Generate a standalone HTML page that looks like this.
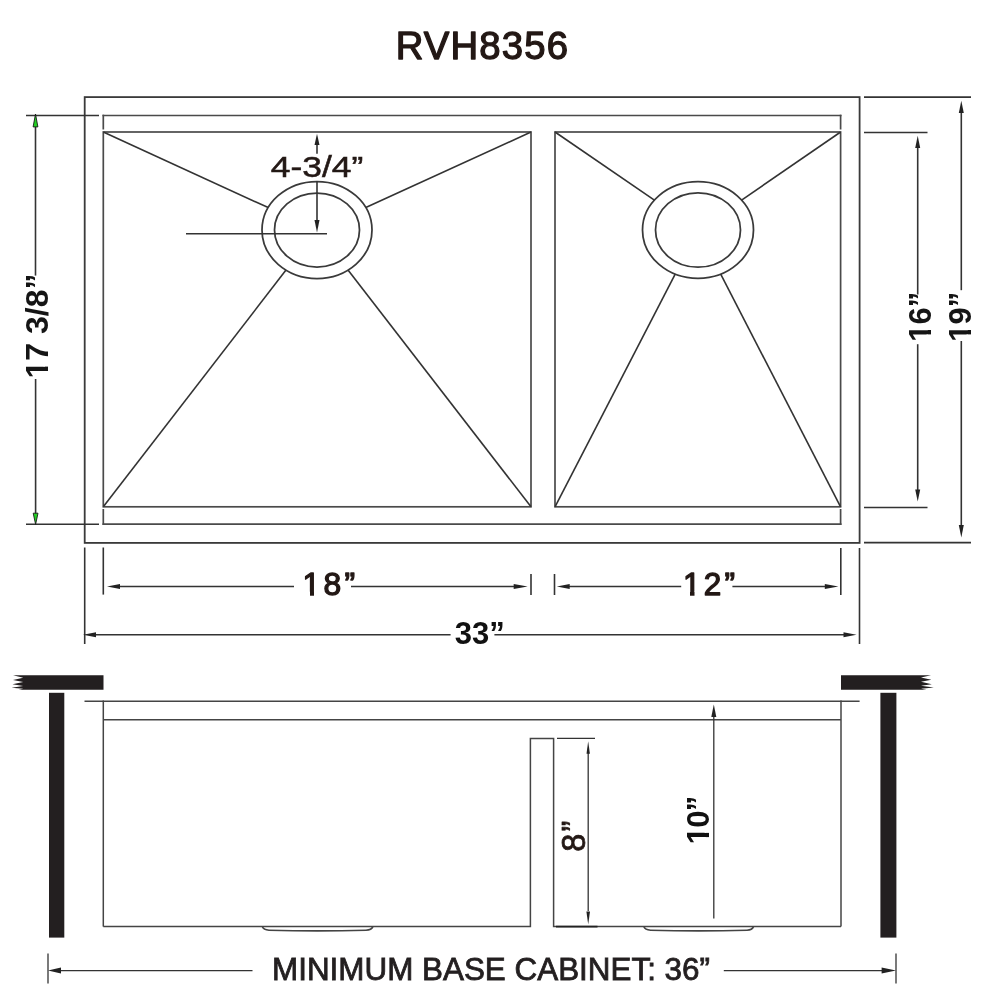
<!DOCTYPE html>
<html><head><meta charset="utf-8">
<style>
html,body{margin:0;padding:0;background:#fff;width:1000px;height:1000px;overflow:hidden}
svg{display:block;will-change:transform}
text{font-family:"Liberation Sans",sans-serif}
</style></head>
<body>
<svg width="1000" height="1000" viewBox="0 0 1000 1000">
<rect x="0" y="0" width="1000" height="1000" fill="#fff"/>

<!-- Title -->
<text x="481.9" y="59" font-size="38.3" font-weight="normal" fill="#231815" stroke="#231815" stroke-width="1.3" stroke-linejoin="round" text-anchor="middle" textLength="172.3" lengthAdjust="spacing">RVH8356</text>

<!-- ============ TOP VIEW ============ -->
<g fill="none" stroke-linecap="butt">
  <!-- outer rect -->
  <rect x="84.7" y="97.1" width="774.9" height="445.8" stroke="#3a3a3a" stroke-width="1.8"/>
  <!-- inner rim -->
  <g stroke="#4a4a4a" stroke-width="1.7">
    <line x1="102.5" y1="115.5" x2="841.5" y2="115.5"/>
    <line x1="102.5" y1="524.2" x2="841.5" y2="524.2"/>
    <line x1="103.3" y1="114.7" x2="103.3" y2="129.5"/>
    <line x1="103.3" y1="509" x2="103.3" y2="525"/>
    <line x1="840.6" y1="114.7" x2="840.6" y2="129.5"/>
    <line x1="840.6" y1="509" x2="840.6" y2="525"/>
    <!-- left basin -->
    <rect x="103.3" y="132" width="427.7" height="374.8"/>
    <!-- right basin -->
    <rect x="555" y="132" width="285.6" height="374.8"/>
  </g>
  <!-- drains -->
  <g stroke="#3a3a3a" stroke-width="1.75">
    <ellipse cx="317" cy="230" rx="55" ry="48.5"/>
    <ellipse cx="317" cy="230" rx="42.5" ry="37"/>
    <ellipse cx="698" cy="230" rx="55.5" ry="48.3"/>
    <ellipse cx="698" cy="230" rx="42.5" ry="37.2"/>
  </g>
  <!-- diagonals -->
  <g stroke="#333" stroke-width="1.6">
    <line x1="103.3" y1="132.0" x2="268.2" y2="207.6"/>
    <line x1="531.0" y1="132.0" x2="365.8" y2="207.6"/>
    <line x1="103.3" y1="506.8" x2="286.0" y2="270.1"/>
    <line x1="531.0" y1="506.8" x2="348.0" y2="270.1"/>
    <line x1="555.0" y1="132.0" x2="654.4" y2="200.1"/>
    <line x1="840.6" y1="132.0" x2="741.6" y2="200.1"/>
    <line x1="555.0" y1="506.8" x2="675.2" y2="274.1"/>
    <line x1="840.6" y1="506.8" x2="720.7" y2="274.1"/>
  </g>
</g>

<!-- ============ DIMENSIONS TOP ============ -->
<g stroke="#333" stroke-width="1.6" fill="none">
  <!-- 17 3/8 -->
  <line x1="26" y1="115.5" x2="99" y2="115.5"/>
  <line x1="26" y1="524.2" x2="99" y2="524.2"/>
  <line x1="35.5" y1="125" x2="35.5" y2="275.6"/>
  <line x1="35.6" y1="379" x2="35.6" y2="514"/>
  <!-- 16 -->
  <line x1="864" y1="132.5" x2="927.5" y2="132.5"/>
  <line x1="864" y1="507.5" x2="927.5" y2="507.5"/>
  <line x1="917.7" y1="146" x2="917.7" y2="294.5"/>
  <line x1="917.7" y1="344.2" x2="917.7" y2="492"/>
  <!-- 19 -->
  <line x1="864" y1="97.1" x2="971" y2="97.1"/>
  <line x1="864" y1="542.6" x2="971" y2="542.6"/>
  <line x1="961.3" y1="111" x2="961.3" y2="290.2"/>
  <line x1="961.3" y1="341" x2="961.3" y2="527"/>
  <!-- extension lines below -->
  <line x1="84.7" y1="547.5" x2="84.7" y2="644"/>
  <line x1="103.3" y1="547.5" x2="103.3" y2="594.6"/>
  <line x1="531" y1="574" x2="531" y2="595"/>
  <line x1="554.5" y1="574" x2="554.5" y2="595"/>
  <line x1="840.8" y1="548" x2="840.8" y2="595"/>
  <line x1="859.5" y1="548" x2="859.5" y2="644"/>
  <!-- 18 -->
  <line x1="118" y1="586.5" x2="294" y2="586.5"/>
  <line x1="351" y1="586.5" x2="515" y2="586.5"/>
  <!-- 12 -->
  <line x1="568" y1="586.5" x2="681.2" y2="586.5"/>
  <line x1="732.4" y1="586.5" x2="826" y2="586.5"/>
  <!-- 33 -->
  <line x1="95" y1="634.8" x2="450.6" y2="634.8"/>
  <line x1="494.4" y1="634.8" x2="845" y2="634.8"/>
  <!-- 4-3/4 -->
  <line x1="186" y1="233.7" x2="327" y2="233.7"/>
  <line x1="317" y1="143" x2="317" y2="153.7"/>
  <line x1="317" y1="181" x2="317" y2="222"/>
</g>

<!-- arrowheads -->
<g fill="#222" stroke="none">
  <polygon points="35.5,114 33.1,126.9 37.9,126.9" fill="#22d022" stroke="#1a1a1a" stroke-width="0.9" stroke-linejoin="round"/>
  <polygon points="35.6,524.4 33.2,513.2 38,513.2" fill="#22d022" stroke="#1a1a1a" stroke-width="0.9" stroke-linejoin="round"/>
  <polygon points="917.7,135.8 915.2,148 920.2,148"/>
  <polygon points="917.7,501.5 915.2,489.5 920.2,489.5"/>
  <polygon points="961.3,100.7 958.8,113 963.8,113"/>
  <polygon points="961.3,537.5 958.8,525 963.8,525"/>
  <polygon points="107,586.5 120,584 120,589"/>
  <polygon points="527.7,586.5 513.7,584 513.7,589"/>
  <polygon points="556.8,586.5 569.7,584 569.7,589"/>
  <polygon points="838.4,586.5 824.8,584 824.8,589"/>
  <polygon points="83,634.8 96,632.3 96,637.3"/>
  <polygon points="856.5,634.8 843.5,632.3 843.5,637.3"/>
  <polygon points="317,133.7 314.5,145 319.5,145"/>
  <polygon points="317,232.5 314.5,220 319.5,220"/>
</g>

<!-- dimension text -->
<g font-weight="bold" fill="#231815">
  <text x="328.75" y="595.4" font-size="31.8" font-weight="normal" stroke="#231815" stroke-width="1.3" stroke-linejoin="round" text-anchor="middle" textLength="52.5" lengthAdjust="spacing">18”</text>
  <text x="709" y="595.4" font-size="31.5" font-weight="normal" stroke="#231815" stroke-width="1.3" stroke-linejoin="round" text-anchor="middle" textLength="52" lengthAdjust="spacing">12”</text>
  <text x="479.7" y="644" font-size="31" text-anchor="middle" fill="#111">33”</text>
  <text x="317" y="177.4" font-size="29" font-weight="normal" stroke="#231815" stroke-width="0.5" text-anchor="middle" textLength="92.5" lengthAdjust="spacingAndGlyphs">4-3/4”</text>
  <text transform="translate(47.7,326) rotate(-90)" font-size="32" text-anchor="middle" fill="#151515">17 3/8”</text>
  <text transform="translate(930.8,316.7) rotate(-90)" font-size="31" text-anchor="middle" fill="#151515">16”</text>
  <text transform="translate(970.8,316.7) rotate(-90)" font-size="31" text-anchor="middle" fill="#151515">19”</text>
</g>

<!-- ============ SIDE VIEW ============ -->
<g fill="#231f20" stroke="none">
  <polygon points="13,675.3 103.5,675.3 103.5,689.8 18.7,689.8 23.2,688.7 11.5,687.7 23.2,686 12.5,684.2 23.2,682 13,680 23.2,677.8"/>
  <rect x="49" y="692.8" width="15.3" height="244.8"/>
  <polygon points="841,675.3 931,675.3 921,677.6 931.4,679.8 921,681.8 931.8,684.2 921,685.8 933.8,687.6 921,688.7 926.6,689.8 841,689.8"/>
  <rect x="880.4" y="692.8" width="16" height="244.8"/>
</g>
<g fill="none" stroke="#444" stroke-width="1.5">
  <line x1="84.5" y1="701.3" x2="859.6" y2="701.3"/>
  <line x1="103.3" y1="700.5" x2="103.3" y2="926.6"/>
  <line x1="841" y1="700.5" x2="841" y2="926.6"/>
  <line x1="103.3" y1="719.8" x2="841" y2="719.8"/>
  <polyline points="103.3,926.6 530.4,926.6 530.4,738.4 553.6,738.4 553.6,926.6 841,926.6"/>
  <path d="M262.3,926.6 Q263.5,930 269,930.2 Q317.6,931.6 366,930.2 Q371.5,930 372.9,926.6" stroke-width="1.6"/>
  <path d="M643.8,926.6 Q645,930 650.5,930.2 Q698.6,931.6 747,930.2 Q752.2,930 753.5,926.6" stroke-width="1.6"/>
</g>
<g fill="none" stroke="#333" stroke-width="1.3">
  <line x1="557" y1="738.4" x2="595" y2="738.4"/>
  <line x1="556" y1="926.6" x2="597.5" y2="926.6" stroke="#222" stroke-width="1.8"/>
  <line x1="588.2" y1="752" x2="588.2" y2="911"/>
  <line x1="713.8" y1="716" x2="713.8" y2="918.4"/>
  <!-- bottom dim -->
  <line x1="48" y1="953.6" x2="48" y2="983.6"/>
  <line x1="896" y1="953.6" x2="896" y2="983.6"/>
  <line x1="58" y1="970.6" x2="252.5" y2="970.6"/>
  <line x1="723.8" y1="970.6" x2="885" y2="970.6"/>
</g>
<g fill="#222">
  <polygon points="588.2,741.2 586.5,753.8 589.9,753.8"/>
  <polygon points="588.2,924.5 586.4,911.5 590,911.5"/>
  <polygon points="713.8,704.5 711.3,717 716.3,717"/>
  <polygon points="48,970.6 61,967.6 61,973.6"/>
  <polygon points="896,970.6 881.6,967.6 881.6,973.6"/>
</g>
<g font-weight="bold" fill="#231815">
  <text transform="translate(584.6,836.2) rotate(-90)" font-size="32.5" font-weight="normal" stroke="#231815" stroke-width="0.8" stroke-linejoin="round" text-anchor="middle" textLength="31" lengthAdjust="spacing">8”</text>
  <text transform="translate(709.3,820) rotate(-90)" font-size="31" text-anchor="middle" fill="#111" textLength="48.5" lengthAdjust="spacing">10”</text>
</g>
<text x="491" y="980" font-size="31" fill="#231f20" stroke="#231f20" stroke-width="0.8" text-anchor="middle" textLength="438" lengthAdjust="spacingAndGlyphs">MINIMUM BASE CABINET: 36”</text>
<!-- remove feet of "1" glyphs -->
<g fill="#fff" stroke="none">
  <rect x="303" y="591.6" width="7" height="5"/><rect x="314" y="591.6" width="7" height="5"/>
  <rect x="683.5" y="591.6" width="6.5" height="5"/><rect x="694.5" y="591.6" width="7" height="5"/>
  <rect x="43.6" y="360" width="5.6" height="6.6"/><rect x="43.6" y="371" width="5.6" height="6.5"/>
  <rect x="926.6" y="324.5" width="5" height="5.5"/><rect x="926.6" y="334.4" width="5" height="6"/>
  <rect x="966.6" y="324.5" width="5" height="5.5"/><rect x="966.6" y="334.4" width="5" height="6"/>
  <rect x="704.6" y="827.5" width="5" height="5.4"/><rect x="704.6" y="837.1" width="5" height="6"/>
</g>
</svg>
</body></html>
